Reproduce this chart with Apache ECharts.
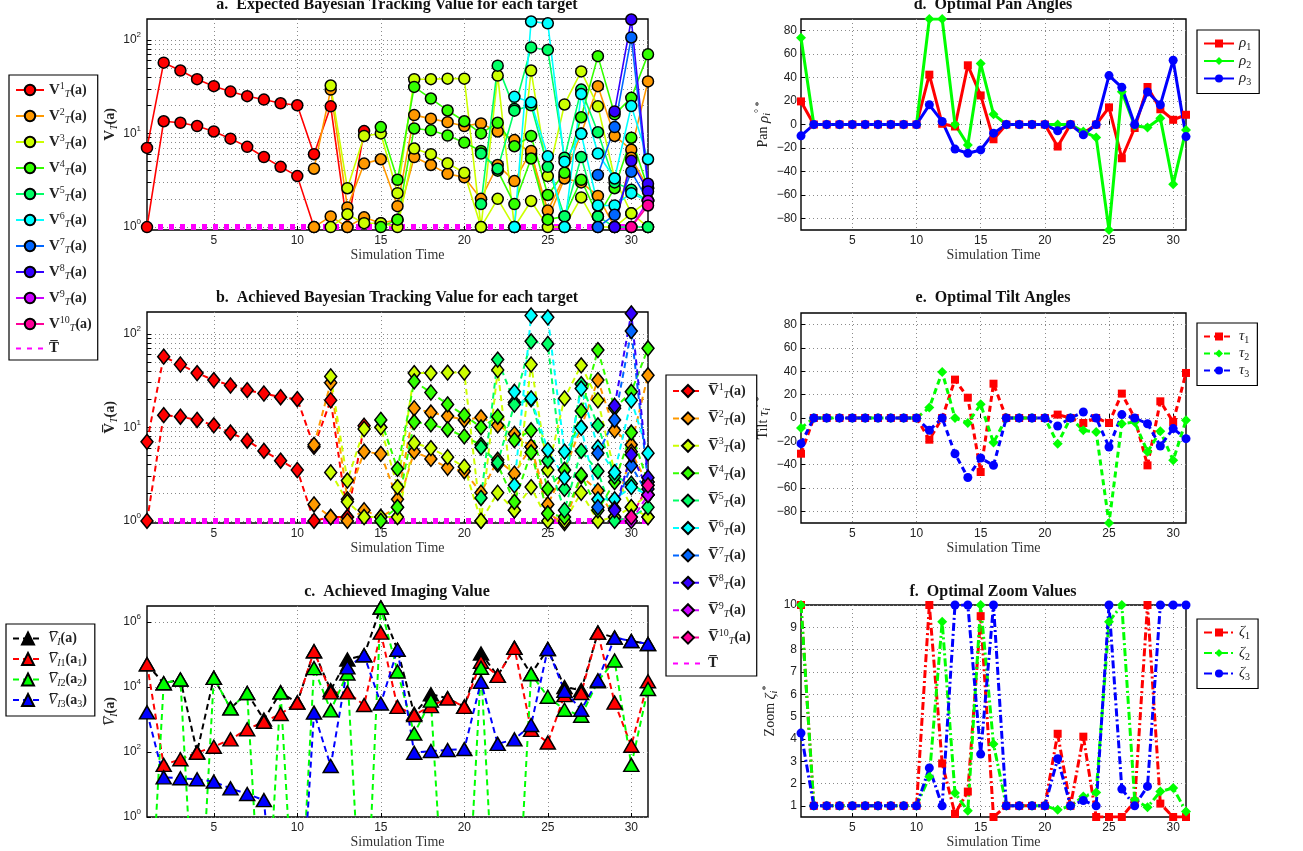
<!DOCTYPE html>
<html>
<head>
<meta charset="utf-8">
<script src="https://cdn.jsdelivr.net/npm/echarts@6/dist/echarts.min.js"></script>
<style>
  html, body { margin: 0; padding: 0; background: #fff; }
  #chart { width: 1303px; height: 851px; }
</style>
</head>
<body>
<div id="chart"></div>
<script>
const _ = null;

// Simulation time steps
const simTime = [1,2,3,4,5,6,7,8,9,10,11,12,13,14,15,16,17,18,19,20,21,22,23,24,25,26,27,28,29,30,31];
const timeTicks = [5, 10, 15, 20, 25, 30];

// a. Expected Bayesian tracking value, two tracks per target
const expV1a = [7, 57, 47, 38, 32, 28, 25, 23, 21, 20, 6.0, 19.5, 1, 10.6, _, _, _, _, _, _, _, _, _, _, _, _, _, _, _, _, _];
const expV1b = [1, 13.5, 13, 12, 10.5, 8.8, 7.2, 5.6, 4.4, 3.5, 1, _, _, _, _, _, _, _, _, _, _, _, _, _, _, _, _, _, _, _, 1];
const expV2a = [_, _, _, _, _, _, _, _, _, _, 4.2, 29.4, 1.62, 4.76, 5.3, 1.67, 15.7, 14.4, 13.2, 12.0, 12.8, 10.5, 8.5, 6.1, 1.5, 3.5, 10, 32, 9.4, 6.7, 36];
const expV2b = [_, _, _, _, _, _, _, _, _, _, 1, 1.3, 1.0, 1.27, 1.1, 1.2, 5.6, 4.6, 3.7, 3.4, 2.0, 4.6, 3.1, 6.5, 1.2, 3.3, 3.0, 2.15, 1.0, 5.5, 2.6];
const expV3a = [_, _, _, _, _, _, _, _, _, _, _, 32.5, 2.6, 9.4, 10, 2.3, 38, 38, 38.5, 38.5, 1, 41.5, 1, 47, 3.5, 20.4, 46, 19.5, 3.3, 1.4, 1.9];
const expV3b = [_, _, _, _, _, _, _, _, _, _, _, 1, 1.37, 1.1, 1.1, 1.0, 6.9, 6.0, 4.8, 3.8, 1.0, 2.0, 1.0, 1.9, 1.0, 1.0, 2.07, 1.0, 1.0, 1.4, 1.0];
const expV4a = [_, _, _, _, _, _, _, _, _, _, _, _, _, _, 11.7, 3.2, 31.4, 23.6, 17.6, 13.5, 10, 13, 7.3, 9.4, 2.2, 3.8, 14.9, 67, 16, 24, 70];
const expV4b = [_, _, _, _, _, _, _, _, _, _, _, _, _, _, 1, 1.2, 11.3, 10.8, 9.5, 8.0, 6.5, 4.0, 1.76, 5.4, 1.2, 1.3, 3.2, 1.3, 2.6, 9.0, 2.6];
const expV5a = [_, _, _, _, _, _, _, _, _, _, _, _, _, _, _, _, _, _, _, _, 1.76, 53, 18.3, 83, 78, 5.5, 29.4, 10.3, 3.0, 2.5, 1.9];
const expV5b = [_, _, _, _, _, _, _, _, _, _, _, _, _, _, _, _, _, _, _, _, 6.1, 4.2, 17.5, 20, 4.4, 1.3, 5.6, 1.3, 1.0, 1.0, 1.0];
const expV6a = [_, _, _, _, _, _, _, _, _, _, _, _, _, _, _, _, _, _, _, _, _, _, 24.6, 21.5, 5.7, 1.0, 26.4, 6.1, 3.3, 19.6, 5.3];
const expV6b = [_, _, _, _, _, _, _, _, _, _, _, _, _, _, _, _, _, _, _, _, _, _, 1, 157, 150, 5.0, 9.9, 1.7, 1.7, 2.3, 1.9];
const expV7a = [_, _, _, _, _, _, _, _, _, _, _, _, _, _, _, _, _, _, _, _, _, _, _, _, _, _, _, 3.6, 11.7, 106, 2.6];
const expV7b = [_, _, _, _, _, _, _, _, _, _, _, _, _, _, _, _, _, _, _, _, _, _, _, _, _, _, _, 1, 1.35, 3.9, 1.9];
const expV8a = [_, _, _, _, _, _, _, _, _, _, _, _, _, _, _, _, _, _, _, _, _, _, _, _, _, _, _, _, 17.2, 165, 2.9];
const expV8b = [_, _, _, _, _, _, _, _, _, _, _, _, _, _, _, _, _, _, _, _, _, _, _, _, _, _, _, _, 1, 5.1, 2.4];
const expV9a = [_, _, _, _, _, _, _, _, _, _, _, _, _, _, _, _, _, _, _, _, _, _, _, _, _, _, _, _, _, 1, 1.9];
const expV10a = [_, _, _, _, _, _, _, _, _, _, _, _, _, _, _, _, _, _, _, _, _, _, _, _, _, _, _, _, _, 1, 1.7];

// b. Achieved Bayesian tracking value
const achV1a = [7, 57, 47, 38, 32, 28, 25, 23, 21, 20, 6.2, 19.5, 1.1, 10.4, _, _, _, _, _, _, _, _, _, _, _, _, _, _, _, _, _];
const achV1b = [1, 13.5, 13, 12, 10.5, 8.8, 7.2, 5.6, 4.4, 3.5, 1, 1.1, 1.1, _, _, _, _, _, _, _, _, _, _, _, _, _, _, _, _, _, 1.1];
const achV2a = [_, _, _, _, _, _, _, _, _, _, 6.5, 30, 1.7, 5.5, 5.2, 1.7, 16, 14.4, 13.2, 12, 12.8, 10.5, 8.5, 6.2, 1.5, 3.5, 10, 32, 9.3, 6.5, 36];
const achV2b = [_, _, _, _, _, _, _, _, _, _, 1.5, 1.1, 1.0, 1.3, 1.1, 1.4, 5.5, 4.6, 3.7, 3.4, 2.0, 4.5, 3.2, 6.2, 1.2, 0.95, 3.0, 2.1, 1.1, 5.5, 2.4];
const achV3a = [_, _, _, _, _, _, _, _, _, _, _, 35, 2.7, 9.6, 10, 2.3, 38, 38, 38.5, 38.5, 1, 41, 1.3, 47, 3.5, 20.4, 46, 19.5, 3.3, 1.4, 1.9];
const achV3b = [_, _, _, _, _, _, _, _, _, _, _, 3.3, 1.6, 1.1, 1.1, 1.1, 6.8, 6.0, 4.8, 3.8, 1.0, 2.0, 1.3, 2.3, 1.0, 1.0, 2.0, 1.0, 1.1, 1.4, 1.1];
const achV4a = [_, _, _, _, _, _, _, _, _, _, _, _, _, _, 12, 3.6, 31, 23.6, 17.6, 13.5, 10, 13, 7.3, 9.3, 2.2, 3.5, 15, 67, 16, 24, 70];
const achV4b = [_, _, _, _, _, _, _, _, _, _, _, _, _, _, 1, 1.4, 11.4, 10.8, 9.5, 8.0, 6.5, 4.0, 1.6, 5.4, 1.2, 1.1, 3.1, 1.3, 2.6, 8.8, 2.6];
const achV5a = [_, _, _, _, _, _, _, _, _, _, _, _, _, _, _, _, _, _, _, _, 1.76, 53, 18.5, 83, 78, 2.2, 29, 10.5, 3.0, 2.5, 1.9];
const achV5b = [_, _, _, _, _, _, _, _, _, _, _, _, _, _, _, _, _, _, _, _, 6.1, 4.2, 17.5, 20, 4.4, 1.3, 5.6, 3.4, 1.0, 1.1, 1.4];
const achV6a = [_, _, _, _, _, _, _, _, _, _, _, _, _, _, _, _, _, _, _, _, _, _, 24, 20.4, 5.7, 2.9, 26, 6.1, 3.3, 19.5, 5.3];
const achV6b = [_, _, _, _, _, _, _, _, _, _, _, _, _, _, _, _, _, _, _, _, _, _, 2.4, 157, 150, 5.5, 9.9, 1.7, 1.7, 2.3, 1.9];
const achV7a = [_, _, _, _, _, _, _, _, _, _, _, _, _, _, _, _, _, _, _, _, _, _, _, _, _, _, _, 5.3, 12, 107, 2.6];
const achV7b = [_, _, _, _, _, _, _, _, _, _, _, _, _, _, _, _, _, _, _, _, _, _, _, _, _, _, _, 1.4, 1.35, 3.9, 1.9];
const achV8a = [_, _, _, _, _, _, _, _, _, _, _, _, _, _, _, _, _, _, _, _, _, _, _, _, _, _, _, _, 17, 165, 2.9];
const achV8b = [_, _, _, _, _, _, _, _, _, _, _, _, _, _, _, _, _, _, _, _, _, _, _, _, _, _, _, _, 1.3, 5.1, 2.2];
const achV9a = [_, _, _, _, _, _, _, _, _, _, _, _, _, _, _, _, _, _, _, _, _, _, _, _, _, _, _, _, _, 1, 1.9];
const achV10a = [_, _, _, _, _, _, _, _, _, _, _, _, _, _, _, _, _, _, _, _, _, _, _, _, _, _, _, _, _, 1.1, 2.4];

// Tracking threshold
const thresholdT = [1,1,1,1,1,1,1,1,1,1,1,1,1,1,1,1,1,1,1,1,1,1,1,1,1,1,1,1,1,1,1];

// c. Achieved imaging value (0 = no imaging value)
const imgTotal = [5e4, 1.3e4, 1.7e4, 100, 1.9e4, 2200, 6500, 1000, 6800, 3300, 1.26e5, 8000, 7e4, 9.5e4, 2.8e6, 1.4e5, 1500, 6000, 4470, 2450, 1.07e5, 2.2e4, 1.6e5, 2.5e4, 1.48e5, 1e4, 8000, 4.7e5, 3.3e5, 2.6e5, 2.1e5];
const imgCam1 = [5e4, 40, 60, 95, 145, 245, 500, 850, 1480, 3300, 1.26e5, 6800, 6800, 2800, 4.7e5, 2450, 1380, 2570, 4470, 2450, 6e4, 2.2e4, 1.6e5, 480, 195, 5600, 6500, 4.7e5, 3300, 155, 1.5e4];
const imgCam2 = [0, 1.3e4, 1.7e4, 0, 1.9e4, 2200, 6500, 0, 6800, 0, 3.8e4, 1900, 2.6e4, 0, 2.8e6, 3e4, 370, 3800, 0, 0, 3.9e4, 0, 0, 2.5e4, 5000, 2000, 1300, 1.5e4, 6.5e4, 40, 8700];
const imgCam3 = [1650, 16.6, 15.5, 14.5, 12.3, 7.6, 5.1, 3.3, 0, 0, 1620, 37, 4e4, 9.5e4, 3100, 1.4e5, 95, 107, 115, 123, 1.45e4, 178, 245, 676, 1.48e5, 7600, 2000, 1.6e4, 3.3e5, 2.6e5, 2.1e5];

// d. Optimal pan angles (degrees)
const panRho1 = [19.7, 0, 0, 0, 0, 0, 0, 0, 0, 0, 42.5, 0.6, -1.7, 50.5, 24.8, -12.6, 0, 0, 0, 0, -18.8, 0, -7.4, 0, 14.6, -28.8, -3, 32, 13, 4, 8.3];
const panRho2 = [74, 0, 0, 0, 0, 0, 0, 0, 0, 0, 90, 90, 0, -17.4, 52, 8.8, 0, 0, 0, 0, 0, 0, -6, -11, -90, 28, -1, -2.6, 5.4, -51, -4.6];
const panRho3 = [-9.7, 0, 0, 0, 0, 0, 0, 0, 0, 0, 16.8, 2.6, -21, -24.5, -21.7, -7.4, 0, 0, 0, 0, -5.4, 0, -8.8, 0, 41.7, 31.7, 0, 27.7, 16.8, 54.8, -10.3];

// e. Optimal tilt angles (degrees)
const tiltTau1 = [-30.6, 0, 0, 0, 0, 0, 0, 0, 0, 0, -18.6, 0, 32.9, 17.4, -46.3, 29.4, 0, 0, 0, 0, 2.9, 0, -4.3, 0, -4.3, 20.9, 0, -40.6, 14.3, -3.4, 38.6];
const tiltTau2 = [-8.6, 0, 0, 0, 0, 0, 0, 0, 0, 0, 8.9, 39.4, 0, -4.3, 11.7, -21.1, 0, 0, 0, 0, -22, 0, -10.6, -12, -90, -4.9, -3.4, -29, -11.4, -36.3, -2];
const tiltTau3 = [-22, 0, 0, 0, 0, 0, 0, 0, 0, 0, -10.6, 0, -30.6, -51, -34.3, -40.6, 0, 0, 0, 0, -6.9, 0, 5.1, 0, -24.9, 2.9, 0, -4.9, -24, -9.1, -17.7];

// f. Optimal zoom values
const zoomZeta1 = [10, 1, 1, 1, 1, 1, 1, 1, 1, 1, 10, 2.9, 0.64, 1.64, 9.5, 0.5, 1, 1, 1, 1, 4.23, 1, 4.1, 0.5, 0.5, 0.5, 1.2, 10, 1.1, 0.5, 0.5];
const zoomZeta2 = [10, 1, 1, 1, 1, 1, 1, 1, 1, 1, 2.3, 9.25, 1.57, 0.78, 10, 3.77, 1, 1, 1, 1, 0.82, 1, 1.42, 1.6, 9.25, 10, 1.27, 0.94, 1.64, 1.8, 0.75];
const zoomZeta3 = [4.26, 1, 1, 1, 1, 1, 1, 1, 1, 1, 2.7, 1, 10, 10, 3.32, 10, 1, 1, 1, 1, 3.11, 1, 1.24, 1, 10, 1.75, 1, 1.87, 10, 10, 10];

// Axis tick values
const angleTicks = [-80, -60, -40, -20, 0, 20, 40, 60, 80];
const zoomTicks = [1, 2, 3, 4, 5, 6, 7, 8, 9, 10];
const trackLabelTicks = [1, 10, 100];
const imgTicks = [1, 100, 1e4, 1e6];

// ---------------------------------------------------------------------------
const targetColors = ['#ff0000', '#ff9900', '#ccff00', '#33ff00', '#00ff66', '#00ffff', '#0066ff', '#3300ff', '#cc00ff', '#ff0099'];
const expTracks = [[expV1a, expV1b], [expV2a, expV2b], [expV3a, expV3b], [expV4a, expV4b], [expV5a, expV5b],
                   [expV6a, expV6b], [expV7a, expV7b], [expV8a, expV8b], [expV9a], [expV10a]];
const achTracks = [[achV1a, achV1b], [achV2a, achV2b], [achV3a, achV3b], [achV4a, achV4b], [achV5a, achV5b],
                   [achV6a, achV6b], [achV7a, achV7b], [achV8a, achV8b], [achV9a], [achV10a]];
const LOG_FLOOR = 1e-5;   // zero values drop off the bottom of a log axis

const SERIF = '"Liberation Serif", "DejaVu Serif", serif';
const SANS = '"Liberation Sans", Arial, Helvetica, sans-serif';
const INK = '#222';

const toPoints = vals => simTime.map((t, i) => [t, vals[i] == null ? null : vals[i]]);
const toLogPoints = vals => simTime.map((t, i) => [t, vals[i] === 0 ? LOG_FLOOR : vals[i]]);

// minor grid values for the tracking panels: 1..9, 10..90, 100
const trackGridTicks = [];
[1, 10].forEach(d => { for (let m = 1; m < 10; m++) trackGridTicks.push(m * d); });
trackGridTicks.push(100);

const grids = [
  { left: 147, top: 19,  width: 501, height: 211 },
  { left: 147, top: 312, width: 501, height: 211 },
  { left: 147, top: 606, width: 501, height: 211 },
  { left: 801, top: 19,  width: 385, height: 211 },
  { left: 801, top: 313, width: 385, height: 210 },
  { left: 801, top: 605, width: 385, height: 212 }
].map(g => Object.assign({ show: true, borderColor: '#000', borderWidth: 1.4, backgroundColor: 'transparent', outerBoundsMode: 'none' }, g));

const gridDots = { show: true, lineStyle: { color: '#8a8a8a', width: 1, type: [1, 3] } };

const richText = {
  v:   { fontFamily: SERIF, fontWeight: 'bold', fontSize: 15, lineHeight: 18, color: INK },
  vi:  { fontFamily: SERIF, fontStyle: 'italic', fontSize: 15, lineHeight: 18, color: INK },
  p:   { fontFamily: SERIF, fontWeight: 'bold', fontSize: 14, lineHeight: 18, color: INK },
  t:   { fontFamily: SERIF, fontSize: 14, lineHeight: 18, color: INK },
  g:   { fontFamily: SERIF, fontStyle: 'italic', fontSize: 15, lineHeight: 18, color: INK },
  sub: { fontFamily: SERIF, fontStyle: 'italic', fontSize: 10, lineHeight: 10, verticalAlign: 'bottom', color: INK },
  subn:{ fontFamily: SERIF, fontSize: 10, lineHeight: 10, verticalAlign: 'bottom', color: INK },
  sup: { fontFamily: SERIF, fontSize: 10, lineHeight: 10, verticalAlign: 'top', color: INK }
};

function xAxisFor(gi) {
  return {
    type: 'value', gridIndex: gi, min: 1, max: 31,
    axisLine: { show: false },
    axisTick: { show: true, inside: true, length: 4, customValues: timeTicks, lineStyle: { color: '#000' } },
    axisLabel: { customValues: timeTicks, fontFamily: SANS, fontSize: 12, color: INK, margin: 5 },
    splitLine: gridDots,
    name: 'Simulation Time', nameLocation: 'middle', nameGap: 16,
    nameTextStyle: { fontFamily: SERIF, fontSize: 14, color: '#333' }
  };
}

function logYAxis(gi, min, max, gridVals, labelVals, name, gap) {
  return {
    type: 'log', logBase: 10, gridIndex: gi, min: min, max: max,
    axisLine: { show: false },
    axisTick: { show: true, inside: true, length: 4, customValues: gridVals, lineStyle: { color: '#000' } },
    axisLabel: {
      customValues: labelVals, fontFamily: SANS, fontSize: 12, color: INK, margin: 6, lineHeight: 18,
      formatter: v => '{m|10}{e|' + Math.round(Math.log10(v)) + '}',
      rich: {
        m: { fontFamily: SANS, fontSize: 12, lineHeight: 18, color: INK },
        e: { fontFamily: SANS, fontSize: 8, lineHeight: 9, verticalAlign: 'top', color: INK }
      }
    },
    splitLine: gridDots,
    name: name, nameLocation: 'middle', nameGap: gap,
    nameTextStyle: { rich: richText }
  };
}

function linYAxis(gi, min, max, ticks, name, gap) {
  return {
    type: 'value', gridIndex: gi, min: min, max: max,
    axisLine: { show: false },
    axisTick: { show: true, inside: true, length: 4, customValues: ticks, lineStyle: { color: '#000' } },
    axisLabel: {
      customValues: ticks, fontFamily: SANS, fontSize: 12, color: INK, margin: 4,
      formatter: v => (v < 0 ? '\u2212' + (-v) : String(v))
    },
    splitLine: gridDots,
    name: name, nameLocation: 'middle', nameGap: gap,
    nameTextStyle: { rich: richText }
  };
}

const series = [];
function addLine(o) {
  series.push(Object.assign({ type: 'line', animation: false, silent: true, connectNulls: false, clip: true }, o));
}

const thresholdStyle = { color: '#ff00ff', width: 6, type: [5, 6], cap: 'butt' };

// a. expected tracking value
addLine({ name: 'threshold', xAxisIndex: 0, yAxisIndex: 0, data: toPoints(thresholdT), symbol: 'none',
          lineStyle: thresholdStyle });
expTracks.forEach((tracks, k) => tracks.forEach(vals => addLine({
  name: 'expected-' + (k + 1), xAxisIndex: 0, yAxisIndex: 0, data: toPoints(vals),
  symbol: 'circle', symbolSize: 11,
  lineStyle: { color: targetColors[k], width: 1.6 },
  itemStyle: { color: targetColors[k], borderColor: '#000', borderWidth: 1.5 }
})));

// b. achieved tracking value
addLine({ name: 'threshold', xAxisIndex: 1, yAxisIndex: 1, data: toPoints(thresholdT), symbol: 'none',
          lineStyle: thresholdStyle });
achTracks.forEach((tracks, k) => tracks.forEach(vals => addLine({
  name: 'achieved-' + (k + 1), xAxisIndex: 1, yAxisIndex: 1, data: toPoints(vals),
  symbol: 'diamond', symbolSize: [12, 15],
  lineStyle: { color: targetColors[k], width: 2, type: [6, 4] },
  itemStyle: { color: targetColors[k], borderColor: '#000', borderWidth: 1.5 }
})));

// c. imaging value
[['imaging-total', imgTotal, '#000000'], ['imaging-1', imgCam1, '#ff0000'],
 ['imaging-2', imgCam2, '#00ff00'], ['imaging-3', imgCam3, '#0000ff']].forEach(([name, vals, col]) => addLine({
  name: name, xAxisIndex: 2, yAxisIndex: 2, data: toLogPoints(vals),
  symbol: 'triangle', symbolSize: [15, 13],
  lineStyle: { color: col, width: 2, type: [6, 4] },
  itemStyle: { color: col, borderColor: '#000', borderWidth: 1.5 }
}));

// d, e, f. camera parameters
const camColors = ['#ff0000', '#00ff00', '#0000ff'];
const camSymbols = [['rect', 8], ['diamond', 10], ['circle', 9]];
function addCamPanel(prefix, idx, sets, lineType) {
  sets.forEach((vals, c) => addLine({
    name: prefix + '-' + (c + 1), xAxisIndex: idx, yAxisIndex: idx, data: toPoints(vals),
    symbol: camSymbols[c][0], symbolSize: camSymbols[c][1],
    lineStyle: { color: camColors[c], width: 3, type: lineType },
    itemStyle: { color: camColors[c] }
  }));
}
addCamPanel('pan', 3, [panRho1, panRho2, panRho3], 'solid');
addCamPanel('tilt', 4, [tiltTau1, tiltTau2, tiltTau3], [6, 4]);
addCamPanel('zoom', 5, [zoomZeta1, zoomZeta2, zoomZeta3], [8, 3, 2, 3]);

// ---------------------------------------------------------------------------
const legendBase = {
  orient: 'vertical', selectedMode: false, backgroundColor: '#fff',
  borderColor: '#000', borderWidth: 1.2, borderRadius: 0,
  textStyle: { rich: richText, color: INK }
};
const targetNames = n => [1,2,3,4,5,6,7,8,9,10].map(k => n + '-' + k);
const thresholdItem = { name: 'threshold', itemStyle: { opacity: 0 } };
const thresholdLabel = '{v|T\u0305}';

const legends = [
  Object.assign({}, legendBase, {
    left: 9, top: 75, itemWidth: 28, itemHeight: 13, itemGap: 8, padding: [6, 6, 4, 6],
    data: targetNames('expected').concat([thresholdItem]),
    formatter: name => name === 'threshold' ? thresholdLabel
      : '{v|V}{sup|' + name.split('-')[1] + '}{sub|T}{p|(a)}'
  }),
  Object.assign({}, legendBase, {
    left: 666, top: 375, itemWidth: 30, itemHeight: 15, itemGap: 9.4, padding: [7, 6, 5, 6],
    data: targetNames('achieved').concat([thresholdItem]),
    formatter: name => name === 'threshold' ? thresholdLabel
      : '{v|V\u0305}{sup|' + name.split('-')[1] + '}{sub|T}{p|(a)}'
  }),
  Object.assign({}, legendBase, {
    left: 6, top: 624, itemWidth: 30, itemHeight: 15, itemGap: 4, padding: [7, 8, 7, 6],
    data: ['imaging-total', 'imaging-1', 'imaging-2', 'imaging-3'],
    formatter: name => name === 'imaging-total' ? '{vi|V\u0305}{sub|I}{p|(a)}'
      : '{vi|V\u0305}{sub|I}{subn|' + name.split('-')[1] + '}{p|(a}{subn|' + name.split('-')[1] + '}{p|)}'
  }),
  Object.assign({}, legendBase, {
    left: 1197, top: 30, itemWidth: 30, itemHeight: 10, itemGap: 1, padding: [6, 8, 6, 6],
    data: ['pan-1', 'pan-2', 'pan-3'],
    formatter: name => '{g|\u03c1}{subn|' + name.split('-')[1] + '}'
  }),
  Object.assign({}, legendBase, {
    left: 1197, top: 323, itemWidth: 30, itemHeight: 10, itemGap: 0.5, padding: [6, 8, 6, 6],
    data: ['tilt-1', 'tilt-2', 'tilt-3'],
    formatter: name => '{g|\u03c4}{subn|' + name.split('-')[1] + '}'
  }),
  Object.assign({}, legendBase, {
    left: 1197, top: 619, itemWidth: 30, itemHeight: 10, itemGap: 4, padding: [6, 8, 6, 6],
    data: ['zoom-1', 'zoom-2', 'zoom-3'],
    formatter: name => '{g|\u03b6}{subn|' + name.split('-')[1] + '}'
  })
];

const titleFont = 'bold 16px "Liberation Serif", "DejaVu Serif", serif';
const panelTitles = [
  ['a.  Expected Bayesian Tracking Value for each target', 397, 5],
  ['b.  Achieved Bayesian Tracking Value for each target', 397, 298],
  ['c.  Achieved Imaging Value', 397, 592],
  ['d.  Optimal Pan Angles', 993, 5],
  ['e.  Optimal Tilt Angles', 993, 298],
  ['f.  Optimal Zoom Values', 993, 592]
].map(([text, x, y]) => ({
  type: 'text', x: x, y: y, silent: true,
  style: { text: text, font: titleFont, fill: '#111', textAlign: 'center', textVerticalAlign: 'middle' }
}));

const option = {
  backgroundColor: '#fff',
  animation: false,
  grid: grids,
  xAxis: [0, 1, 2, 3, 4, 5].map(xAxisFor),
  yAxis: [
    logYAxis(0, 0.93, 167, trackGridTicks, trackLabelTicks, '{v|V}{sub|T}{p|(a)}', 26),
    logYAxis(1, 0.95, 171, trackGridTicks, trackLabelTicks, '{v|V\u0305}{sub|T}{p|(a)}', 27),
    logYAxis(2, 1, 3.1e6, imgTicks, imgTicks, '{vi|V\u0305}{sub|I}{p|(a)}', 24),
    linYAxis(3, -90, 90, angleTicks, '{t|Pan }{g|\u03c1}{sub|i}{sup|\u00b0 *}', 20),
    linYAxis(4, -90, 90, angleTicks, '{t|Tilt }{g|\u03c4}{sub|i}{sup|\u00b0 *}', 20),
    linYAxis(5, 0.5, 10, zoomTicks, '{t|Zoom }{g|\u03b6}{sub|i}{sup|*}', 15)
  ],
  legend: legends,
  graphic: panelTitles,
  series: series
};

const chart = echarts.init(document.getElementById('chart'), null, { renderer: 'canvas' });
chart.setOption(option);
</script>
</body>
</html>
